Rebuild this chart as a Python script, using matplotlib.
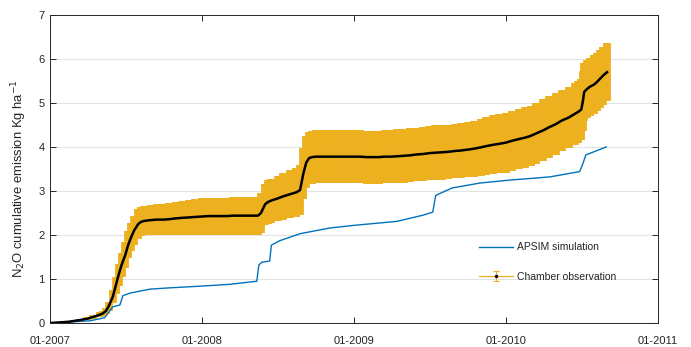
import matplotlib
matplotlib.use("Agg")
import matplotlib.pyplot as plt
import numpy as np
import pandas as pd

plt.rcParams['font.family'] = ['Liberation Sans', 'DejaVu Sans']

# Chamber observations: cumulative N2O (kg/ha) with standard error
obs_dates = [
    "2007-01-01", "2007-01-15", "2007-02-01", "2007-02-15", "2007-03-01", "2007-03-15",
    "2007-04-01", "2007-04-15", "2007-05-01", "2007-05-08", "2007-05-15", "2007-05-22",
    "2007-06-01", "2007-06-08", "2007-06-15", "2007-06-22", "2007-07-01", "2007-07-08",
    "2007-07-15", "2007-07-22", "2007-08-01", "2007-08-08", "2007-08-15", "2007-09-01",
    "2007-09-15", "2007-10-01", "2007-10-15", "2007-11-01", "2007-11-15", "2007-12-01",
    "2007-12-15", "2008-01-01", "2008-01-15", "2008-02-01", "2008-02-15", "2008-03-01",
    "2008-03-15", "2008-04-01", "2008-04-15", "2008-05-01", "2008-05-15", "2008-05-22",
    "2008-06-01", "2008-06-08", "2008-06-15", "2008-07-01", "2008-07-15", "2008-08-01",
    "2008-08-15", "2008-08-24", "2008-09-01", "2008-09-08", "2008-09-15", "2008-09-22",
    "2008-10-01", "2008-10-15", "2008-11-01", "2008-11-15", "2008-12-01", "2008-12-15",
    "2009-01-01", "2009-01-15", "2009-02-01", "2009-02-15", "2009-03-01", "2009-03-15",
    "2009-04-01", "2009-04-15", "2009-05-01", "2009-05-15", "2009-06-01", "2009-06-15",
    "2009-07-01", "2009-07-15", "2009-08-01", "2009-08-15", "2009-09-01", "2009-09-15",
    "2009-10-01", "2009-10-15", "2009-11-01", "2009-11-15", "2009-12-01", "2009-12-15",
    "2010-01-01", "2010-01-15", "2010-02-01", "2010-02-15", "2010-03-01", "2010-03-15",
    "2010-04-01", "2010-04-15", "2010-05-01", "2010-05-15", "2010-06-01", "2010-06-15",
    "2010-06-24", "2010-07-01", "2010-07-05", "2010-07-08", "2010-07-15", "2010-07-22",
    "2010-08-01", "2010-08-08", "2010-08-15", "2010-08-22", "2010-09-01",
]
obs_mean = [
    0.00, 0.01, 0.02, 0.03, 0.05, 0.07,
    0.10, 0.14, 0.19, 0.22, 0.27, 0.38,
    0.60, 0.85, 1.10, 1.32, 1.55, 1.78,
    1.95, 2.10, 2.25, 2.30, 2.32, 2.34,
    2.35, 2.35, 2.36, 2.38, 2.39, 2.40,
    2.41, 2.42, 2.43, 2.43, 2.43, 2.43,
    2.44, 2.44, 2.44, 2.44, 2.44, 2.50,
    2.70, 2.75, 2.78, 2.83, 2.88, 2.93,
    2.97, 3.02, 3.40, 3.65, 3.75, 3.77,
    3.78, 3.78, 3.78, 3.78, 3.78, 3.78,
    3.78, 3.78, 3.77, 3.77, 3.77, 3.78,
    3.78, 3.79, 3.80, 3.81, 3.83, 3.84,
    3.86, 3.87, 3.88, 3.89, 3.91, 3.92,
    3.94, 3.96, 3.99, 4.02, 4.05, 4.07,
    4.10, 4.14, 4.18, 4.21, 4.25, 4.31,
    4.38, 4.45, 4.52, 4.60, 4.67, 4.75,
    4.80, 4.85, 5.05, 5.25, 5.32, 5.37,
    5.42, 5.48, 5.55, 5.62, 5.70,
]
obs_err = [
    0.01, 0.01, 0.01, 0.02, 0.02, 0.03,
    0.03, 0.04, 0.05, 0.06, 0.07, 0.10,
    0.15, 0.20, 0.25, 0.28, 0.30, 0.31,
    0.32, 0.33, 0.33, 0.33, 0.33, 0.34,
    0.35, 0.36, 0.37, 0.38, 0.39, 0.40,
    0.41, 0.42, 0.42, 0.42, 0.42, 0.42,
    0.43, 0.43, 0.43, 0.43, 0.43, 0.45,
    0.47, 0.49, 0.50, 0.52, 0.53, 0.54,
    0.55, 0.56, 0.58, 0.59, 0.60, 0.60,
    0.60, 0.60, 0.60, 0.60, 0.60, 0.60,
    0.60, 0.60, 0.60, 0.60, 0.60, 0.60,
    0.60, 0.61, 0.61, 0.61, 0.61, 0.61,
    0.61, 0.62, 0.62, 0.62, 0.62, 0.63,
    0.63, 0.64, 0.65, 0.66, 0.67, 0.67,
    0.68, 0.68, 0.68, 0.69, 0.69, 0.69,
    0.70, 0.70, 0.70, 0.70, 0.70, 0.70,
    0.70, 0.70, 0.68, 0.66, 0.66, 0.66,
    0.66, 0.66, 0.66, 0.66, 0.66,
]

# APSIM simulated cumulative N2O (kg/ha)
sim_dates = [
    "2007-01-01", "2007-04-06", "2007-05-12", "2007-06-01", "2007-06-18", "2007-06-25",
    "2007-07-12", "2007-08-29", "2007-10-16", "2008-01-01", "2008-03-08", "2008-05-12",
    "2008-05-17", "2008-05-24", "2008-06-12", "2008-06-16", "2008-07-06", "2008-08-24",
    "2008-11-04", "2009-01-01", "2009-04-14", "2009-06-15", "2009-07-09", "2009-07-16",
    "2009-08-25", "2009-10-30", "2010-01-01", "2010-04-16", "2010-06-27", "2010-07-04",
    "2010-07-12", "2010-08-30",
]
sim_vals = [
    0.00, 0.05, 0.12, 0.37, 0.41, 0.62,
    0.68, 0.77, 0.80, 0.84, 0.88, 0.95,
    1.32, 1.38, 1.41, 1.77, 1.87, 2.03,
    2.16, 2.22, 2.31, 2.45, 2.52, 2.90,
    3.07, 3.18, 3.24, 3.32, 3.44, 3.60,
    3.82, 4.00,
]

x_ticks = ["2007-01-01", "2008-01-01", "2009-01-01", "2010-01-01", "2011-01-01"]
x_tick_labels = ["01-2007", "01-2008", "01-2009", "01-2010", "01-2011"]
y_ticks = [0, 1, 2, 3, 4, 5, 6, 7]

obs_t = pd.to_datetime(obs_dates)
sim_t = pd.to_datetime(sim_dates)

YELLOW = "#EDB120"
BLUE = "#0072BD"
DARK = "#262626"

fig = plt.figure(figsize=(6.91, 3.47), dpi=100)
ax = fig.add_axes([0.0724, 0.069, 0.8796, 0.888])

sim_line, = ax.plot(sim_t, sim_vals, color=BLUE, lw=1.0, zorder=3,
                    label="APSIM simulation")
# dense error bars forming the uncertainty band
ax.errorbar(obs_t, obs_mean, yerr=obs_err, fmt='none', ecolor=YELLOW,
            elinewidth=5.6, capsize=0, zorder=2)
ax.plot(obs_t, obs_mean, color='black', lw=1.8, zorder=4)

# legend key for the observations (thin error bar with a black point)
obs_key = ax.errorbar([np.nan], [np.nan], yerr=[0.1], fmt='-', color=YELLOW,
                      ecolor=YELLOW, elinewidth=0.8, capsize=2.5, capthick=0.8,
                      marker='.', markersize=3, markerfacecolor='black',
                      markeredgecolor='black', lw=0.9,
                      label="Chamber observation")

ax.set_xlim(pd.Timestamp("2007-01-01"), pd.Timestamp("2011-01-01"))
ax.set_ylim(0, 7)
ax.set_xticks(pd.to_datetime(x_ticks))
ax.set_xticklabels(x_tick_labels)
ax.set_yticks(y_ticks)

ax.grid(axis='y', color='#e3e3e3', lw=0.8)
ax.set_axisbelow(True)
ax.tick_params(direction='in', top=True, right=True, length=4, width=0.7,
               colors=DARK, labelsize=8)
ax.tick_params(axis='x', pad=9)
ax.tick_params(axis='y', pad=4)
for s in ax.spines.values():
    s.set_color(DARK)
    s.set_linewidth(0.7)

ax.set_ylabel("N$_2$O cumulative emission Kg ha$^{-1}$", fontsize=9.4,
              color=DARK)
ax.yaxis.set_label_coords(-0.035, 0.469)

leg = ax.legend(handles=[sim_line, obs_key], loc='upper left',
                bbox_to_anchor=(0.69, 0.292), frameon=False, fontsize=7.5,
                handlelength=3.3, handletextpad=0.35, labelspacing=1.85)
for t in leg.get_texts():
    t.set_color(DARK)

fig.savefig("out.png", dpi=100)
